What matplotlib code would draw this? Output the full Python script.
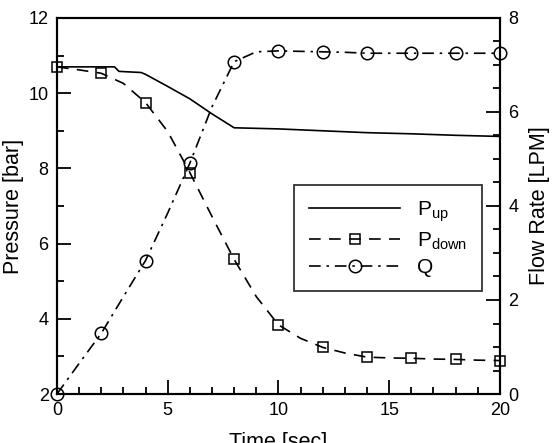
import matplotlib
matplotlib.use('agg')
import matplotlib.pyplot as plt
from matplotlib.ticker import MultipleLocator

plt.rcParams['font.family'] = ['Liberation Sans', 'DejaVu Sans']
plt.rcParams['mathtext.fontset'] = 'custom'
plt.rcParams['mathtext.rm'] = 'Liberation Sans'
plt.rcParams['mathtext.it'] = 'Liberation Sans'

# upstream pressure (solid line, no markers)
t_up = [0, 1, 2, 2.6, 2.8, 3.8, 4, 5, 6, 7, 8, 10, 12, 14, 16, 18, 20]
p_up = [10.7, 10.7, 10.7, 10.7, 10.58, 10.55, 10.5, 10.18, 9.85, 9.45, 9.08,
        9.05, 9.0, 8.95, 8.92, 8.88, 8.85]

# downstream pressure and flow rate, sampled every second, markers every 2 s
t = list(range(0, 21))
p_down = [10.7, 10.62, 10.53, 10.26, 9.75, 8.98, 7.89, 6.72, 5.58, 4.59, 3.84,
          3.48, 3.24, 3.09, 2.98, 2.96, 2.95, 2.93, 2.92, 2.90, 2.89]
q = [0.0, 0.65, 1.29, 2.07, 2.84, 3.85, 4.91, 6.11, 7.07, 7.28, 7.30,
     7.29, 7.28, 7.27, 7.25, 7.25, 7.25, 7.25, 7.25, 7.25, 7.25]

fig = plt.figure(figsize=(5.53, 4.43), dpi=100)
ax = fig.add_axes([0.103, 0.1106, 0.801, 0.8488])
ax2 = ax.twinx()

l1, = ax.plot(t_up, p_up, color='black', lw=1.2, label=r'P$_{\mathrm{up}}$')
l2, = ax.plot(t, p_down, color='black', lw=1.2, dashes=(7, 5),
              marker='s', ms=7, mfc='none', mew=1.1, markevery=2,
              clip_on=False, label=r'P$_{\mathrm{down}}$')
l3, = ax2.plot(t, q, color='black', lw=1.2, dashes=(7, 3.5, 1.5, 3.5),
               marker='o', ms=9, mfc='none', mew=1.1, markevery=2,
               clip_on=False, label='Q')

ax.set_xlim(0, 20)
ax.set_ylim(2, 12)
ax2.set_ylim(0, 8)

ax.xaxis.set_major_locator(MultipleLocator(5))
ax.xaxis.set_minor_locator(MultipleLocator(1))
ax.yaxis.set_major_locator(MultipleLocator(2))
ax.yaxis.set_minor_locator(MultipleLocator(1))
ax2.yaxis.set_major_locator(MultipleLocator(2))
ax2.yaxis.set_minor_locator(MultipleLocator(0.5))

ax.tick_params(which='both', direction='in', top=False, right=False,
               labelsize=13, width=1.3, pad=6)
ax.tick_params(which='major', length=10)
ax.tick_params(which='minor', length=5)
ax2.tick_params(which='both', direction='in', labelsize=13, width=1.3, pad=6)
ax2.tick_params(which='major', length=10)
ax2.tick_params(which='minor', length=5)

for a in (ax, ax2):
    for s in a.spines.values():
        s.set_linewidth(1.5)

ax.set_xlabel('Time [sec]', fontsize=15.5, labelpad=9)
ax.set_ylabel('Pressure [bar]', fontsize=15.5, labelpad=3)
ax2.set_ylabel('Flow Rate [LPM]', fontsize=15.5, labelpad=8)

leg = ax2.legend(handles=[l1, l2, l3], loc='upper right',
                 bbox_to_anchor=(0.959, 0.556), fontsize=15, frameon=True,
                 fancybox=False, edgecolor='black', handlelength=4.4,
                 numpoints=1, borderpad=0.7, labelspacing=0.3,
                 handletextpad=0.8, borderaxespad=0)
leg.get_frame().set_linewidth(1.3)

plt.savefig('out.png', dpi=100)
plt.close()
